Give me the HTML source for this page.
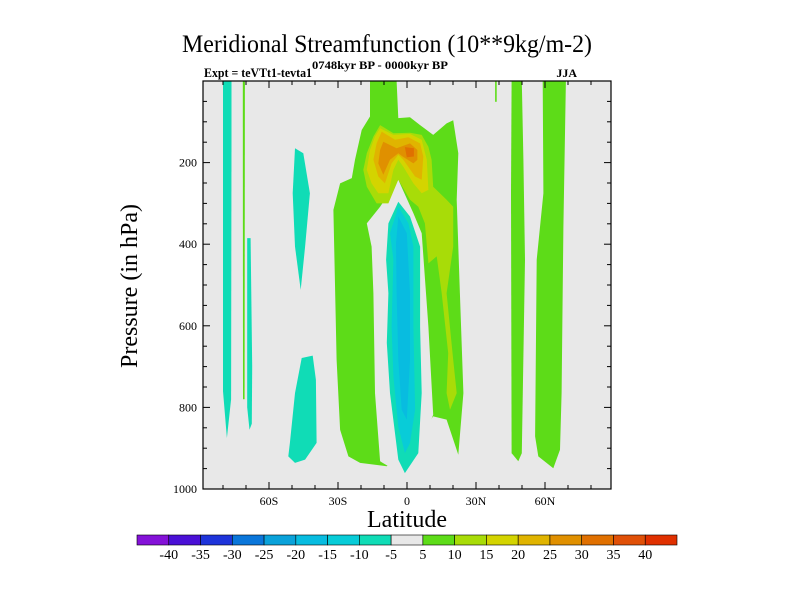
<!DOCTYPE html>
<html><head><meta charset="utf-8"><style>
html,body{margin:0;padding:0;background:#fff;}
svg text{font-family:"Liberation Serif",serif;fill:#000;}
</style></head><body>
<svg id="chart" width="800" height="600" viewBox="0 0 800 600" xmlns="http://www.w3.org/2000/svg">
<rect x="0" y="0" width="800" height="600" fill="#fff"/>
<text x="387" y="52" font-size="25" text-anchor="middle" textLength="410" lengthAdjust="spacingAndGlyphs">Meridional Streamfunction (10**9kg/m-2)</text>
<text x="204" y="77" font-size="13" font-weight="bold" textLength="108" lengthAdjust="spacingAndGlyphs">Expt = teVTt1-tevta1</text>
<text x="312" y="69" font-size="12" font-weight="bold" textLength="136" lengthAdjust="spacingAndGlyphs">0748kyr BP - 0000kyr BP</text>
<text x="577" y="77" font-size="12" font-weight="bold" text-anchor="end">JJA</text>
<g id="plot"></g>
<g id="axes"></g>
<text transform="translate(137,286) rotate(-90)" font-size="24" text-anchor="middle">Pressure (in hPa)</text>
<text x="407" y="527" font-size="24" text-anchor="middle">Latitude</text>
<g id="cbar"></g>
</svg>
<script>
const levels = [-40,-35,-30,-25,-20,-15,-10,-5,5,10,15,20,25,30,35,40];
const levelColors = ["#8412d8","#4a10d6","#1e34da","#0a76da","#0aa2da","#08bce0","#08ccd8","#10dcb6","#e8e8e8","#5ddc18","#a8dc08","#d4d400","#e0b400","#e09000","#e07000","#e05008","#e03000"];
const xTickLabels = ["60S","30S","0","30N","60N"];
const xTickValues = [-60,-30,0,30,60];
const yTickValues = [200,400,600,800,1000];
// contour regions: level index into levelColors, points [lat, pressure]
const regionLevels = [7,9,7,7,7,9,8,7,6,5,10,11,12,13,14,9,9,9];
const regionShapes = [
 [[-80,0],[-76.3,0],[-76.3,150],[-76.5,780],[-78.3,875],[-80,760]],
 [[-71.4,0],[-70.5,0],[-70.6,780],[-71.3,780]],
 [[-69.5,385],[-68,385],[-67.3,700],[-67.5,840],[-68.5,855],[-69.5,800]],
 [[-48.7,165],[-45.1,177],[-42.2,275],[-44.3,406],[-46.2,512],[-48.7,406],[-49.7,275]],
 [[-45.8,679],[-41,673],[-39.6,732],[-39.3,887],[-44.3,928],[-48.7,936],[-51.6,920],[-50.9,887],[-48.7,765]],
 [[-16.1,0],[-4.5,0],[-3.8,91],[1.3,89],[5.7,108],[11.4,132],[17.2,104],[20.1,96],[22.3,177],[21.6,291],[23,520],[24.5,765],[22.3,916],[17.2,830],[11.4,822],[2.8,887],[-8.8,944],[-20.4,936],[-25.5,920],[-29.1,855],[-30.6,683],[-32,316],[-29.1,251],[-24,238],[-22.6,193],[-19.7,120],[-16.1,87]],
 [[-17.5,349],[-11.7,308],[-3.8,242],[2.8,324],[6.4,373],[9.3,602],[11.4,818],[5.7,896],[1.3,961],[-3,961],[-11.7,932],[-13.9,765],[-14.6,520],[-15.4,406]],
 [[-3.8,296],[1.3,332],[5.7,406],[5.7,602],[6.4,765],[4.9,912],[-0.9,961],[-3.8,928],[-7.4,765],[-8.8,642],[-8.1,520],[-9.1,438],[-8.1,349]],
 [[-3.8,308],[0.6,349],[2.8,406],[2.8,602],[3.5,806],[1.3,887],[-0.9,912],[-3.8,847],[-5.9,724],[-6.7,602],[-5.9,438],[-7.4,373]],
 [[-3.8,332],[-0.1,373],[1.3,520],[1.3,683],[-0.1,830],[-2.3,806],[-3.8,683],[-4.5,520],[-4.8,398]],
 [[-11.7,108],[-5.9,128],[1.3,127],[6.4,132],[9.3,161],[10.7,193],[11.4,259],[17.2,291],[20.1,308],[20.1,406],[17.2,520],[20.1,683],[21.6,765],[18.7,806],[17.2,765],[17.9,667],[15.1,520],[12.9,430],[9.3,447],[7.8,349],[4.9,308],[1.3,291],[-3.8,242],[-8.1,300],[-13.2,300],[-17.5,259],[-19,218],[-17.5,177],[-14.6,136]],
 [[-11.7,116],[-5.9,132],[1.3,130],[6.4,144],[8.6,193],[9.3,267],[6.4,275],[2.8,251],[-1.6,210],[-3.8,193],[-5.9,218],[-8.1,275],[-12.5,275],[-15.4,251],[-17.5,218],[-16.1,169],[-13.9,136]],
 [[-11,124],[-5.2,144],[0.6,138],[5.7,153],[7.1,185],[6.4,242],[3.5,234],[-1.6,193],[-3.8,181],[-6.7,202],[-9.6,251],[-12.5,234],[-14.6,193],[-13.2,153]],
 [[-10.3,149],[-4.5,165],[1.3,153],[4.5,169],[4.5,193],[2.8,202],[-1.9,185],[-3.8,177],[-7.4,193],[-10.3,230],[-12.5,202],[-11.7,169]],
 [[-0.9,162],[3,165],[3,185],[-0.1,187]],
 [[45.5,0],[49.9,0],[50.6,193],[51.3,438],[49.9,912],[48.4,932],[45.5,912],[45.2,275]],
 [[38.3,0],[39,0],[39,51],[38.3,51]],
 [[59,0],[69.1,0],[68,357],[67.2,765],[66.5,904],[63.6,949],[57.1,920],[55.7,871],[56.4,438],[59.3,275]]
];
const NS="http://www.w3.org/2000/svg";
const X0=203,X1=611,Y0=81,Y1=489;
function xScale(lat){return 407+lat*2.3;}
function yScale(p){return Y0+(p/1000)*(Y1-Y0);}
function mk(tag,attrs,parent){const e=document.createElementNS(NS,tag);for(const k in attrs)e.setAttribute(k,attrs[k]);parent.appendChild(e);return e;}
const plot=document.getElementById('plot');
const bg=mk('rect',{x:X0,y:Y0,width:X1-X0,height:Y1-Y0,fill:'#e8e8e8'},plot);


const clip=mk('clipPath',{id:'pc'},plot);mk('rect',{x:X0,y:Y0,width:X1-X0,height:Y1-Y0},clip);
const cg=mk('g',{'clip-path':'url(#pc)'},plot);
regionShapes.forEach((pts,i)=>{
 const d=pts.map(p=>xScale(p[0]).toFixed(1)+','+yScale(p[1]).toFixed(1)).join(' ');
 const pg=mk('polygon',{points:d,fill:levelColors[regionLevels[i]]},cg);
 
 
});
const ax=document.getElementById('axes');
mk('rect',{x:X0,y:Y0,width:X1-X0,height:Y1-Y0,fill:'none',stroke:'#000','stroke-width':1.2},ax);
for(let lat=-80;lat<=80;lat+=10){
 const x=xScale(lat);const major=lat%30===0;const L=major?7:4;
 mk('line',{x1:x,x2:x,y1:Y1,y2:Y1-L,stroke:'#000'},ax);
 mk('line',{x1:x,x2:x,y1:Y0,y2:Y0+L,stroke:'#000'},ax);
}
xTickValues.forEach((v,i)=>{
 const t=mk('text',{x:xScale(v),y:Y1+16,'font-size':12,'text-anchor':'middle'},ax);
 t.textContent=xTickLabels[i];
 
 
});
for(let p=50;p<1000;p+=50){
 const y=yScale(p);const major=p%200===0;const L=major?7:4;
 mk('line',{x1:X0,x2:X0+L,y1:y,y2:y,stroke:'#000'},ax);
 mk('line',{x1:X1,x2:X1-L,y1:y,y2:y,stroke:'#000'},ax);
}
yTickValues.forEach(v=>{
 const t=mk('text',{x:X0-6,y:yScale(v)+4,'font-size':12,'text-anchor':'end'},ax);
 t.textContent=v;
 
 
});
const cb=document.getElementById('cbar');
const CBX0=137,CBX1=677,CBY=535,CBH=10,bw=(CBX1-CBX0)/levelColors.length;
levelColors.forEach((c,i)=>{
 const r=mk('rect',{x:CBX0+i*bw,y:CBY,width:bw,height:CBH,fill:c,stroke:'#000','stroke-width':0.6},cb);
 
 
});
levels.forEach((v,i)=>{
 const t=mk('text',{x:CBX0+(i+1)*bw,y:CBY+24,'font-size':14,'text-anchor':'middle'},cb);
 t.textContent=v;
 
 
});
</script>
</body></html>
